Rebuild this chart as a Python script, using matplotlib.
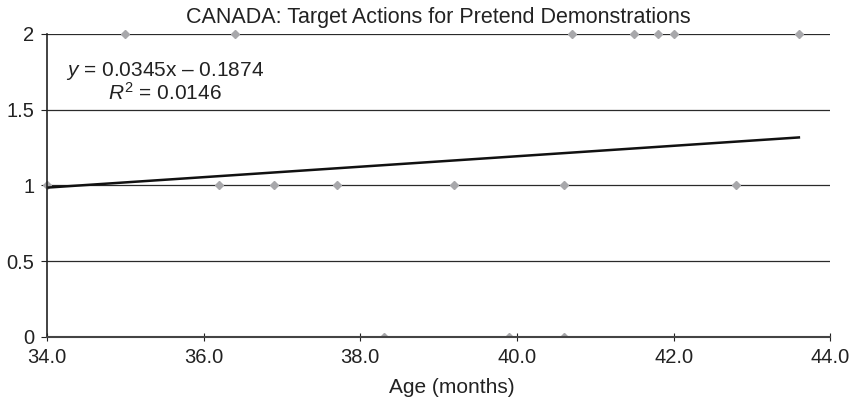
import matplotlib
matplotlib.use('Agg')
import matplotlib.pyplot as plt
from matplotlib.patches import Rectangle
import numpy as np

plt.rcParams['font.family'] = ['Liberation Sans', 'DejaVu Sans']
plt.rcParams['mathtext.fontset'] = 'custom'
plt.rcParams['mathtext.rm'] = 'Liberation Sans'
plt.rcParams['mathtext.it'] = 'Liberation Sans:italic'


# data

age_2 = [35.0, 36.4, 40.7, 41.5, 41.8, 42.0, 43.6]
score_2 = [2, 2, 2, 2, 2, 2, 2]

age_1 = [34.0, 36.2, 36.9, 37.7, 39.2, 40.6, 42.8]
score_1 = [1, 1, 1, 1, 1, 1, 1]

age_0 = [38.3, 39.9, 40.6]
score_0 = [0, 0, 0]

slope = 0.0345
intercept = -0.1874
r2 = 0.0146

x_ticks = [34, 36, 38, 40, 42, 44]
y_ticks = [0, 0.5, 1, 1.5, 2]


ages = age_2 + age_1 + age_0
scores = score_2 + score_1 + score_0

fig = plt.figure(figsize=(8.55, 4.04), dpi=100)
ax = fig.add_axes([0.055, 0.166, 0.916, 0.750])

for y in y_ticks[1:]:
    ax.axhline(y, color='#2a2a2a', lw=0.9, zorder=1)

pts, = ax.plot(ages, scores, linestyle='none', marker='D', ms=4.2,
               color='#a8a8ab', mec='#a8a8ab', zorder=2)
# points sit on the bottom axis cut off, the top row is not
clip = Rectangle((-0.05, 0), 1.1, 1.1, transform=ax.transAxes)
pts.set_clip_path(clip)

# trendline
tx = np.array([min(ages), max(ages)])
ax.plot(tx, slope * tx + intercept, color='#111111', lw=1.8, zorder=3)

ax.text(35.51, 1.686,
        '$\\it{y}$ = 0.0345x \u2013 0.1874\n$\\it{R}^2$ = 0.0146',
        ha='center', va='center', fontsize=15, color='#222222',
        linespacing=1.0)

ax.set_xlim(34, 44)
ax.set_ylim(0, 2)
ax.set_xticks(x_ticks)
ax.set_xticklabels(['%.1f' % v for v in x_ticks])
ax.set_yticks(y_ticks)
ax.set_yticklabels(['0', '0.5', '1', '1.5', '2'])

for s in ['top', 'right']:
    ax.spines[s].set_visible(False)
ax.spines['left'].set_color('#222222')
ax.spines['bottom'].set_color('#444444')
ax.spines['left'].set_linewidth(1.2)
ax.spines['bottom'].set_linewidth(1.5)
ax.spines['left'].set_zorder(4)
ax.spines['bottom'].set_zorder(4)

ax.tick_params(axis='y', direction='out', length=4, labelsize=14.5,
               colors='#222222', pad=5)
ax.tick_params(axis='x', direction='inout', length=6, labelsize=14.5,
               colors='#222222', pad=5)

ax.set_xlabel('Age (months)', fontsize=15, color='#222222', labelpad=8,
              x=0.5166)
ax.set_title('CANADA: Target Actions for Pretend Demonstrations',
             fontsize=15.5, color='#222222', pad=8)

plt.savefig('out.png', dpi=100)
